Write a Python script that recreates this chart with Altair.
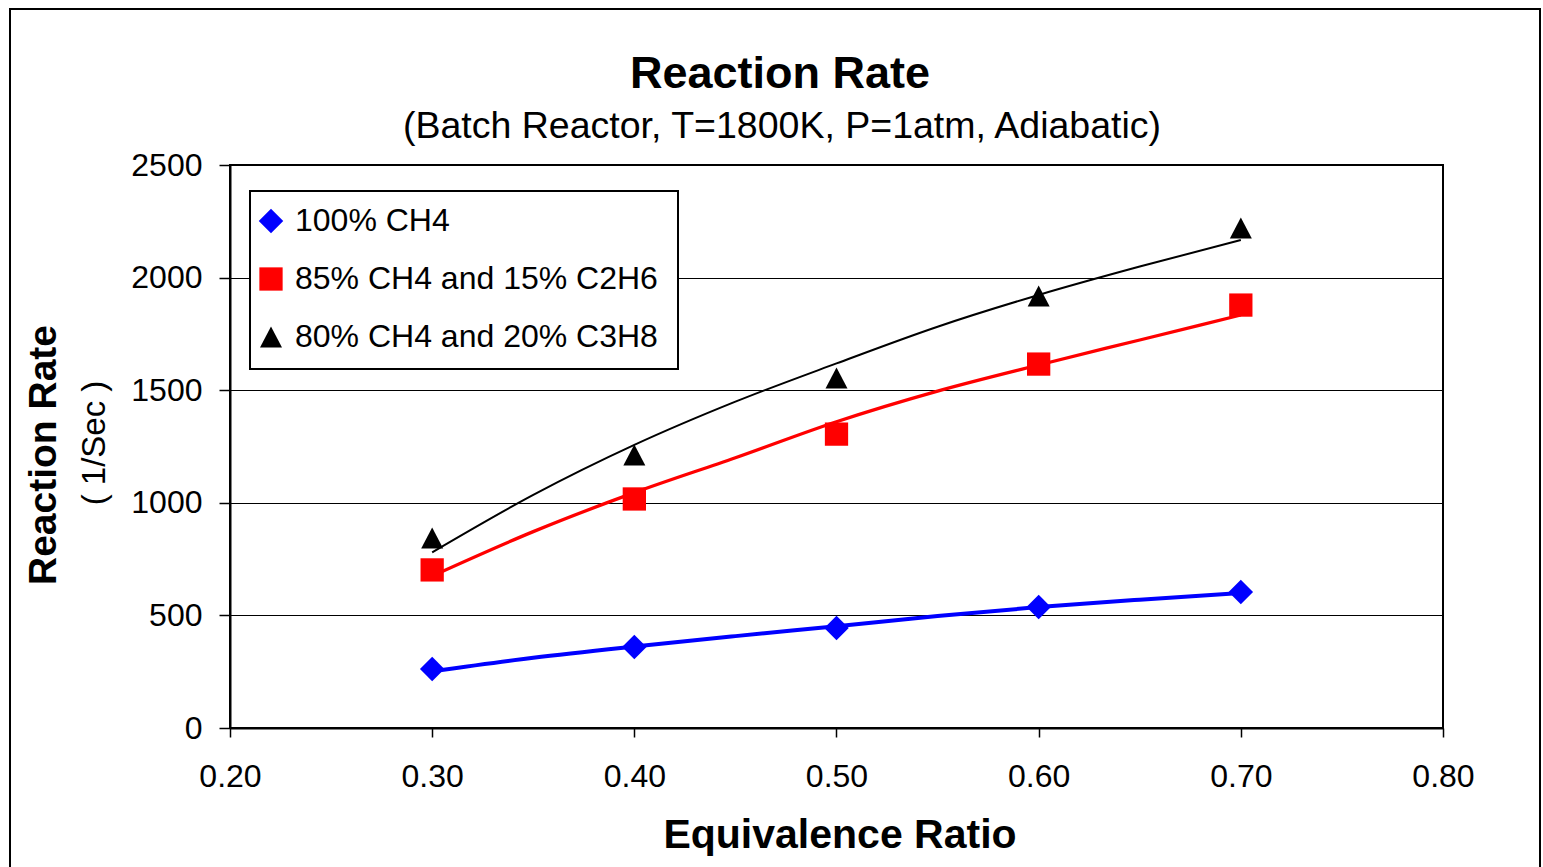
import altair as alt
import pandas as pd

# ---- data ----
series_names = ["100% CH4", "85% CH4 and 15% C2H6", "80% CH4 and 20% C3H8"]

marker_x = [0.30, 0.40, 0.50, 0.60, 0.70]
ch4_pts = [262, 360, 444, 537, 604]
c2h6_pts = [702, 1017, 1305, 1616, 1878]
c3h8_pts = [844, 1212, 1554, 1918, 2220]

trend_x = [0.30, 0.35, 0.40, 0.45, 0.50, 0.55, 0.60, 0.65, 0.70]
ch4_trend = [252, 312, 362, 408, 452, 497, 537, 570, 600]
c2h6_trend = [675, 872, 1045, 1200, 1360, 1496, 1612, 1723, 1834]
c3h8_trend = [780, 1035, 1257, 1449, 1619, 1782, 1923, 2049, 2167]

x_ticks = [0.2, 0.3, 0.4, 0.5, 0.6, 0.7, 0.8]
y_ticks = [0, 500, 1000, 1500, 2000, 2500]

colors = ["#0000FF", "#FF0000", "#000000"]
TRI = "M0,-0.95L1,0.95L-1,0.95Z"
shapes = ["diamond", "square", TRI]
marker_sizes = [600, 484, 640]
line_widths = [4.0, 3.3, 2.0]

pts = pd.DataFrame({
    "x": marker_x * 3,
    "y": ch4_pts + c2h6_pts + c3h8_pts,
    "series": [series_names[0]] * 5 + [series_names[1]] * 5 + [series_names[2]] * 5,
})
trends = [
    pd.DataFrame({"x": trend_x, "y": ch4_trend}),
    pd.DataFrame({"x": trend_x, "y": c2h6_trend}),
    pd.DataFrame({"x": trend_x, "y": c3h8_trend}),
]

FONT = "Liberation Sans"

xscale = alt.Scale(domain=[0.2, 0.8], nice=False, zero=False)
yscale = alt.Scale(domain=[0, 2500], nice=False)

x_enc = alt.X("x:Q", scale=xscale,
              axis=alt.Axis(values=x_ticks, format=".2f", grid=False, title=None,
                            labelPadding=24, tickSize=9, labelFlush=False))
y_enc = alt.Y("y:Q", scale=yscale,
              axis=alt.Axis(values=y_ticks, format="d", grid=True, title=None,
                            labelPadding=17, tickSize=11, labelFlush=False))

line_layers = [
    alt.Chart(trends[i]).mark_line(interpolate="monotone", color=colors[i],
                                   strokeWidth=line_widths[i]).encode(
        x=alt.X("x:Q", scale=xscale), y=alt.Y("y:Q", scale=yscale))
    for i in range(3)
]

leg = alt.Legend(title=None, orient="none", legendX=25, legendY=40, direction="vertical")

points = alt.Chart(pts).mark_point(filled=True, opacity=1).encode(
    x=x_enc,
    y=y_enc,
    color=alt.Color("series:N", scale=alt.Scale(domain=series_names, range=colors), legend=leg),
    shape=alt.Shape("series:N", scale=alt.Scale(domain=series_names, range=shapes), legend=leg),
    size=alt.Size("series:N", scale=alt.Scale(domain=series_names, range=marker_sizes),
                  legend=None),
)

one = pd.DataFrame({"k": [0]})

frame = alt.Chart(one).mark_rect(fillOpacity=0, stroke="black", strokeWidth=2).encode(
    x=alt.value(-220), x2=alt.value(1310), y=alt.value(-156), y2=alt.value(720)
)

legend_box = alt.Chart(one).mark_rect(fill="white", stroke="black", strokeWidth=2).encode(
    x=alt.value(20), x2=alt.value(448), y=alt.value(26), y2=alt.value(204)
)

def label(text, x, y, size, bold=False, angle=0):
    return alt.Chart(one).mark_text(
        text=text, font=FONT, fontSize=size, fontWeight="bold" if bold else "normal",
        align="center", baseline="alphabetic", angle=angle, color="black"
    ).encode(x=alt.value(x), y=alt.value(y))

title = label("Reaction Rate", 550, -77, 45, bold=True)
subtitle = label("(Batch Reactor, T=1800K, P=1atm, Adiabatic)", 552, -27, 37.5)
xtitle = label("Equivalence Ratio", 610, 683, 41, bold=True)
ytitle = label("Reaction Rate", -174, 290, 39, bold=True, angle=270)
ytitle2 = label("( 1/Sec )", -125, 278, 33, angle=270)

chart = alt.layer(frame, *line_layers, points, legend_box,
                  title, subtitle, xtitle, ytitle, ytitle2).properties(
    width=1213, height=563,
    autosize=alt.AutoSizeParams(type="none"),
    padding={"left": 230, "top": 165, "right": 100, "bottom": 139},
    background="white",
).configure_view(
    stroke="black", strokeWidth=2
).configure_axis(
    labelFont=FONT, labelFontSize=32, labelColor="black",
    domainColor="black", domainWidth=2, tickColor="black", tickWidth=1.5,
    gridColor="black", gridWidth=1.2, gridOpacity=1,
).configure_legend(
    labelFont=FONT, labelFontSize=32, labelColor="black", labelLimit=600,
    padding=0, rowPadding=26, symbolSize=500, labelOffset=8,
    symbolStrokeWidth=0,
)

chart.save("out.html", embed_options={"renderer": "svg", "actions": False})
